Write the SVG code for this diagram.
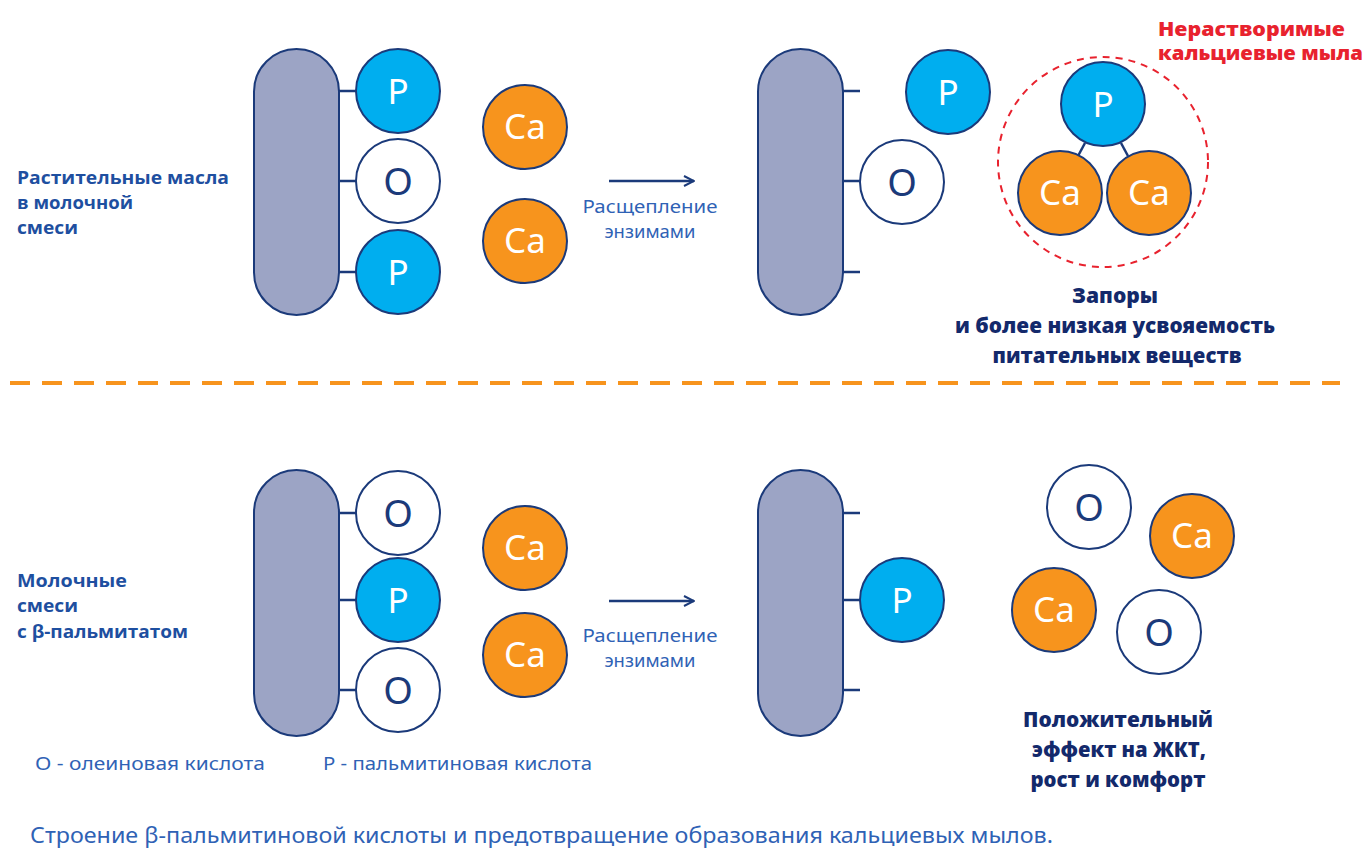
<svg xmlns="http://www.w3.org/2000/svg" width="1365" height="849" viewBox="0 0 1365 849">
<defs>
<style>
.pill{fill:#9ca4c5;stroke:#1b3a7a;stroke-width:2}
.p{fill:#00aeef;stroke:#1b3a7a;stroke-width:2}
.ca{fill:#f7941d;stroke:#1b3a7a;stroke-width:2}
.o{fill:#fff;stroke:#1b3a7a;stroke-width:2}
.ln{stroke:#1b3a7a;stroke-width:2.5;fill:none}
.ct{font-family:"Noto Sans",sans-serif;font-size:35px;fill:#fff;text-anchor:middle}
.ot{font-family:"Noto Sans",sans-serif;font-size:38px;fill:#1b3a7a;text-anchor:middle}
.lbl{font-family:"Open Sans","Noto Sans",sans-serif;font-weight:700;font-size:18px;fill:#1e4fa0}
.arr{font-family:"Noto Sans",sans-serif;font-size:18px;fill:#2f62b5;text-anchor:middle}
.res{font-family:"Open Sans","Noto Sans",sans-serif;font-weight:800;font-size:21px;fill:#13296b;text-anchor:middle}
.red{font-family:"Open Sans","Noto Sans",sans-serif;font-weight:800;font-size:19px;fill:#e8222e}
.leg{font-family:"Noto Sans",sans-serif;font-size:18px;fill:#2f62b5}
.cap{font-family:"Noto Sans",sans-serif;font-size:22px;fill:#2f62b5}
</style>
<marker id="ah" viewBox="0 0 12 12" refX="11" refY="6" markerWidth="12" markerHeight="12" markerUnits="userSpaceOnUse" orient="auto">
<path d="M1,1 L11,6 L1,11" fill="none" stroke="#1b3a7a" stroke-width="2"/>
</marker>
</defs>
<rect width="1365" height="849" fill="#fff"/>

<g id="connectors">
<line class="ln" x1="339" y1="91" x2="357" y2="91"/>
<line class="ln" x1="339" y1="181" x2="357" y2="181"/>
<line class="ln" x1="339" y1="272" x2="357" y2="272"/>
<line class="ln" x1="842" y1="91" x2="860" y2="91"/>
<line class="ln" x1="842" y1="181" x2="860" y2="181"/>
<line class="ln" x1="842" y1="272" x2="860" y2="272"/>
<line class="ln" x1="1085" y1="143" x2="1078" y2="156" stroke-width="2"/>
<line class="ln" x1="1121" y1="143" x2="1128" y2="156" stroke-width="2"/>
<line class="ln" x1="339" y1="513" x2="357" y2="513"/>
<line class="ln" x1="339" y1="600" x2="357" y2="600"/>
<line class="ln" x1="339" y1="690" x2="357" y2="690"/>
<line class="ln" x1="842" y1="513" x2="860" y2="513"/>
<line class="ln" x1="842" y1="600" x2="860" y2="600"/>
<line class="ln" x1="842" y1="690" x2="860" y2="690"/>
<line x1="609" y1="181" x2="694" y2="181" stroke="#1b3a7a" stroke-width="2.5" marker-end="url(#ah)"/>
<line x1="609" y1="601" x2="694" y2="601" stroke="#1b3a7a" stroke-width="2.5" marker-end="url(#ah)"/>
</g>

<g id="divider"><line x1="10" y1="383" x2="1340" y2="383" stroke="#f7941d" stroke-width="4" stroke-dasharray="20 12"/></g>

<g id="top-left">
<rect class="pill" x="254" y="49" width="85" height="266" rx="42.5"/>
<circle class="p" cx="398" cy="91" r="42"/><text class="ct" x="398" y="104">P</text>
<circle class="o" cx="398" cy="181" r="42"/><text class="ot" x="398" y="195">O</text>
<circle class="p" cx="398" cy="272" r="42"/><text class="ct" x="398" y="285">P</text>
<circle class="ca" cx="525" cy="127" r="42"/><text class="ct" x="525" y="139">Ca</text>
<circle class="ca" cx="525" cy="241" r="42"/><text class="ct" x="525" y="253">Ca</text>
</g>
<g id="top-arrow-label">
<text class="arr" x="650" y="213" textLength="135" lengthAdjust="spacingAndGlyphs">Расщепление</text>
<text class="arr" x="650" y="238" textLength="91" lengthAdjust="spacingAndGlyphs">энзимами</text>
</g>
<g id="top-right">
<rect class="pill" x="758" y="49" width="85" height="266" rx="42.5"/>
<circle class="p" cx="948" cy="92" r="42"/><text class="ct" x="948" y="105">P</text>
<circle class="o" cx="902" cy="182" r="42"/><text class="ot" x="902" y="196">O</text>
</g>
<g id="soap">
<circle cx="1103" cy="162" r="105" fill="none" stroke="#e8222e" stroke-width="2" stroke-dasharray="7 6"/>
<circle class="p" cx="1103" cy="104" r="42"/><text class="ct" x="1103" y="117">P</text>
<circle class="ca" cx="1060" cy="193" r="42"/><text class="ct" x="1060" y="205">Ca</text>
<circle class="ca" cx="1149" cy="193" r="42"/><text class="ct" x="1149" y="205">Ca</text>
<text class="red" x="1158" y="36" textLength="187" lengthAdjust="spacingAndGlyphs">Нерастворимые</text>
<text class="red" x="1158" y="60" textLength="205" lengthAdjust="spacingAndGlyphs">кальциевые мыла</text>
</g>
<g id="top-result">
<text class="res" x="1115" y="303" textLength="86" lengthAdjust="spacingAndGlyphs">Запоры</text>
<text class="res" x="1115" y="333" textLength="320" lengthAdjust="spacingAndGlyphs">и более низкая усвояемость</text>
<text class="res" x="1117" y="363" textLength="249" lengthAdjust="spacingAndGlyphs">питательных веществ</text>
</g>
<g id="top-label">
<text class="lbl" x="17" y="184" textLength="212" lengthAdjust="spacingAndGlyphs">Растительные масла</text>
<text class="lbl" x="17" y="209" textLength="116" lengthAdjust="spacingAndGlyphs">в молочной</text>
<text class="lbl" x="17" y="234" textLength="61" lengthAdjust="spacingAndGlyphs">смеси</text>
</g>

<g id="bottom-left">
<rect class="pill" x="254" y="470" width="85" height="266" rx="42.5"/>
<circle class="o" cx="398" cy="513" r="42"/><text class="ot" x="398" y="527">O</text>
<circle class="p" cx="398" cy="600" r="42"/><text class="ct" x="398" y="613">P</text>
<circle class="o" cx="398" cy="690" r="42"/><text class="ot" x="398" y="704">O</text>
<circle class="ca" cx="525" cy="548" r="42"/><text class="ct" x="525" y="560">Ca</text>
<circle class="ca" cx="525" cy="655" r="42"/><text class="ct" x="525" y="667">Ca</text>
</g>
<g id="bottom-arrow-label">
<text class="arr" x="650" y="642" textLength="135" lengthAdjust="spacingAndGlyphs">Расщепление</text>
<text class="arr" x="650" y="667" textLength="91" lengthAdjust="spacingAndGlyphs">энзимами</text>
</g>
<g id="bottom-right">
<rect class="pill" x="758" y="470" width="85" height="266" rx="42.5"/>
<circle class="p" cx="902" cy="600" r="42"/><text class="ct" x="902" y="613">P</text>
<circle class="o" cx="1089" cy="507" r="42"/><text class="ot" x="1089" y="521">O</text>
<circle class="ca" cx="1192" cy="536" r="42"/><text class="ct" x="1192" y="548">Ca</text>
<circle class="ca" cx="1054" cy="610" r="42"/><text class="ct" x="1054" y="622">Ca</text>
<circle class="o" cx="1159" cy="632" r="42"/><text class="ot" x="1159" y="646">O</text>
</g>
<g id="bottom-result">
<text class="res" x="1118" y="727" textLength="190" lengthAdjust="spacingAndGlyphs">Положительный</text>
<text class="res" x="1119" y="757" textLength="174" lengthAdjust="spacingAndGlyphs">эффект на ЖКТ,</text>
<text class="res" x="1118" y="787" textLength="175" lengthAdjust="spacingAndGlyphs">рост и комфорт</text>
</g>
<g id="bottom-label">
<text class="lbl" x="17" y="587" textLength="110" lengthAdjust="spacingAndGlyphs">Молочные</text>
<text class="lbl" x="17" y="612" textLength="61" lengthAdjust="spacingAndGlyphs">смеси</text>
<text class="lbl" x="17" y="638" textLength="171" lengthAdjust="spacingAndGlyphs">с β-пальмитатом</text>
</g>

<g id="legend">
<text class="leg" x="35" y="770" textLength="230" lengthAdjust="spacingAndGlyphs">O - олеиновая кислота</text>
<text class="leg" x="323" y="770" textLength="269" lengthAdjust="spacingAndGlyphs">P - пальмитиновая кислота</text>
</g>
<text class="cap" x="30" y="843" textLength="1023" lengthAdjust="spacingAndGlyphs">Строение β-пальмитиновой кислоты и предотвращение образования кальциевых мылов.</text>
</svg>
